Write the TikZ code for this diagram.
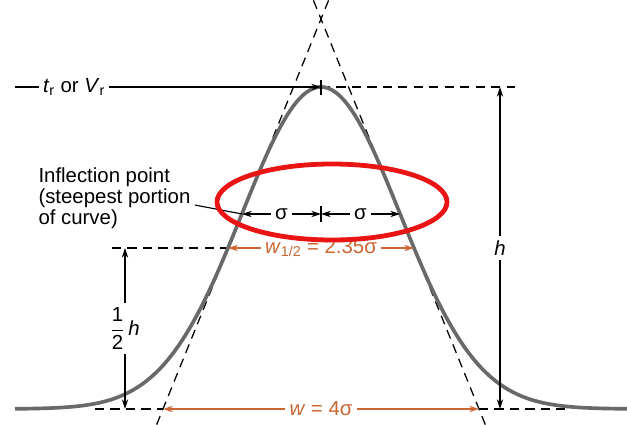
\documentclass[tikz,border=0pt]{standalone}
\usepackage{amsmath}
\usepackage{fontspec}
\setmainfont{Liberation Sans}
\usetikzlibrary{arrows.meta,calc}

\definecolor{peakgray}{RGB}{105,105,105}
\definecolor{dimorange}{RGB}{204,102,51}
\definecolor{markred}{RGB}{235,20,20}

\tikzset{
  guide/.style={dash pattern=on 6.5pt off 4.5pt, line width=0.9pt},
  dimline/.style={{Stealth[length=7pt,width=4.5pt]}-{Stealth[length=7pt,width=4.5pt]}, line width=0.8pt},
  widthline/.style={dimline, dimorange, line width=1pt},
  lbl/.style={fill=white, inner sep=3pt, font=\fontsize{14.5}{15}\selectfont},
}

\begin{document}
\begin{tikzpicture}[x=0.025cm, y=-0.025cm]

		\useasboundingbox (0,0) rectangle (627,425);

		% Key points of the peak
		\coordinate (peak) at (321,87);
		\coordinate (lb) at (163,409);
		\coordinate (rb) at (479,409);
		\coordinate (apex) at (321,19);
		\coordinate (infL) at (242,214);
		\coordinate (infR) at (400,214);
		\coordinate (mid) at (321,214);
		\coordinate (halfL) at (228,248);
		\coordinate (halfR) at (414,248);

		% Tangent lines
		\draw[guide] ($(lb)!-0.04!(apex)$) -- ($(apex)!-0.05!(lb)$);
		\draw[guide] ($(rb)!-0.04!(apex)$) -- ($(apex)!-0.05!(rb)$);

		% Dashed reference lines
		\draw[guide] (peak) -- (515,87);
		\draw[guide] (112,248) -- (halfL);
		\draw[guide] (95,409) -- (lb);
		\draw[guide] (rb) -- (570,409);

		% Peak curve
		\draw[peakgray, line width=2.6pt]
		plot[domain=15:627, samples=200, smooth]
		(\x, {409-322*exp(-0.5*((\x-321)/79)*((\x-321)/79))});

		% Retention label
		\node[lbl] (tr) at (74,87) {\textit{t}\textsubscript{r} or \textit{V}\textsubscript{r}};
		\draw[line width=0.8pt] (15,87) -- (tr.west);
		\draw[line width=0.8pt, -{Stealth[length=7pt,width=4.5pt]}] (tr.east) -- (peak);
		\draw[line width=0.8pt] (321,80) -- (321,95);

		% Heights
		\draw[dimline] (500,87) -- (500,409) node[lbl, midway] (hlab) {\textit{h}};
		\draw[dimline] (125,248) -- (125,409) node[lbl, midway] (halfh) {\(\dfrac{\text{1}}{\text{2}}\)\,\textit{h}};

		% Inflection point
		\node[lbl, align=left, anchor=west, fill=none] (infl) at (34,198)
		{Inflection point\\(steepest portion\\of curve)};
		\draw[line width=0.8pt] ([yshift=-5pt]infl.east) -- (infL);
		\draw[dimline] (infL) -- (mid) node[lbl, midway] (sigL) {σ};
		\draw[dimline] (mid) -- (infR) node[lbl, midway] (sigR) {σ};
		\draw[line width=0.8pt] (321,206) -- (321,222);

		% Widths
		\draw[widthline] (halfL) -- (halfR) node[lbl, midway, text=dimorange] (whalf) {\textit{w}\textsubscript{1/2} = 2.35σ};
		\draw[widthline] (lb) -- (rb) node[lbl, midway, text=dimorange] (wbase) {\textit{w} = 4σ};

		% Highlight
		\draw[markred, line width=3.4pt] (332,202) ellipse (115 and 38);

	\end{tikzpicture}
\end{document}
